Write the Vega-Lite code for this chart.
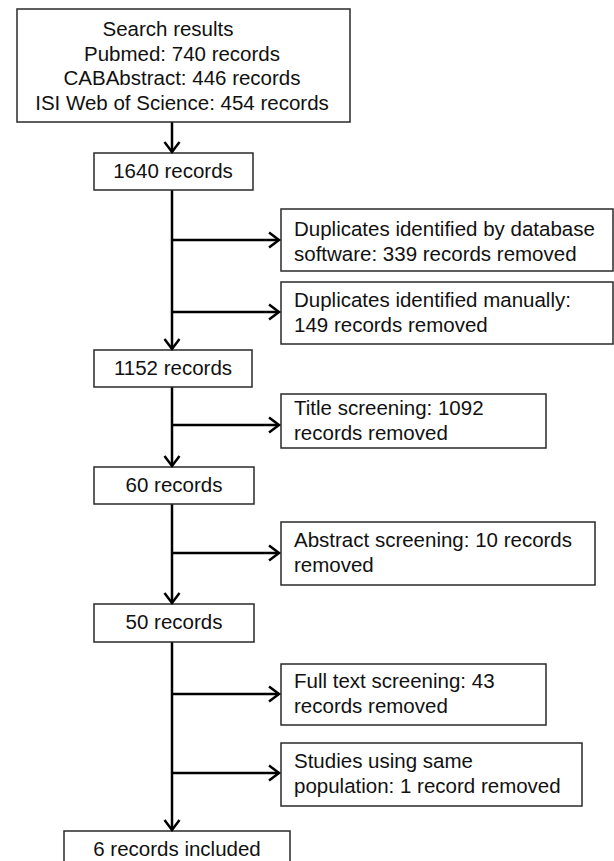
{
  "$schema": "https://vega.github.io/schema/vega-lite/v6.json",
  "width": 614,
  "height": 861,
  "padding": 0,
  "autosize": {"type": "none"},
  "config": {"view": {"stroke": null}},
  "datasets": {
    "boxes": [
      {"x1": 17, "x2": 350, "y1": 9, "y2": 122},
      {"x1": 94, "x2": 253, "y1": 153, "y2": 190},
      {"x1": 281, "x2": 613, "y1": 209, "y2": 271},
      {"x1": 281, "x2": 613, "y1": 282, "y2": 344},
      {"x1": 94, "x2": 252, "y1": 350, "y2": 387},
      {"x1": 281, "x2": 546, "y1": 394, "y2": 448},
      {"x1": 94, "x2": 254, "y1": 467, "y2": 504},
      {"x1": 281, "x2": 595, "y1": 522, "y2": 585},
      {"x1": 94, "x2": 254, "y1": 604, "y2": 642},
      {"x1": 281, "x2": 546, "y1": 664, "y2": 725},
      {"x1": 281, "x2": 582, "y1": 743, "y2": 806},
      {"x1": 64, "x2": 290, "y1": 831, "y2": 880}
    ],
    "vlines": [
      {"x": 172, "y1": 122, "y2": 152},
      {"x": 172, "y1": 190, "y2": 349},
      {"x": 172, "y1": 387, "y2": 466},
      {"x": 172, "y1": 504, "y2": 603},
      {"x": 172, "y1": 642, "y2": 830}
    ],
    "hlines": [
      {"x1": 172, "x2": 279, "y": 240},
      {"x1": 172, "x2": 279, "y": 312},
      {"x1": 172, "x2": 279, "y": 425},
      {"x1": 172, "x2": 279, "y": 553},
      {"x1": 172, "x2": 279, "y": 694},
      {"x1": 172, "x2": 279, "y": 773}
    ],
    "downHeads": [
      {"x": 172, "y": 152},
      {"x": 172, "y": 349},
      {"x": 172, "y": 466},
      {"x": 172, "y": 603},
      {"x": 172, "y": 830}
    ],
    "rightHeads": [
      {"x": 279, "y": 240},
      {"x": 279, "y": 312},
      {"x": 279, "y": 425},
      {"x": 279, "y": 553},
      {"x": 279, "y": 694},
      {"x": 279, "y": 773}
    ],
    "centerText": [
      {"x": 168, "y": 30, "text": "Search results"},
      {"x": 182, "y": 54.5, "text": "Pubmed: 740 records"},
      {"x": 182, "y": 79, "text": "CABAbstract:  446 records"},
      {"x": 182, "y": 103.5, "text": "ISI Web of Science: 454 records"},
      {"x": 173, "y": 172, "text": "1640 records"},
      {"x": 173, "y": 368.5, "text": "1152 records"},
      {"x": 174, "y": 485.5, "text": "60 records"},
      {"x": 174, "y": 623, "text": "50 records"},
      {"x": 177, "y": 850, "text": "6 records included"}
    ],
    "sideText": [
      {"x": 294, "y": 230, "text": "Duplicates identified by database"},
      {"x": 294, "y": 255, "text": "software: 339 records removed"},
      {"x": 294, "y": 300.5, "text": "Duplicates identified manually:"},
      {"x": 294, "y": 325.5, "text": "149 records removed"},
      {"x": 294, "y": 408.5, "text": "Title screening: 1092"},
      {"x": 294, "y": 433.5, "text": "records removed"},
      {"x": 294, "y": 541, "text": "Abstract screening: 10 records"},
      {"x": 294, "y": 566, "text": "removed"},
      {"x": 294, "y": 682, "text": "Full text screening: 43"},
      {"x": 294, "y": 707, "text": "records removed"},
      {"x": 294, "y": 762, "text": "Studies using same"},
      {"x": 294, "y": 787, "text": "population: 1 record removed"}
    ]
  },
  "layer": [
    {
      "data": {"name": "vlines"},
      "mark": {"type": "rule", "color": "#000000", "strokeWidth": 2.5},
      "encoding": {
        "x": {"field": "x", "type": "quantitative", "scale": {"domain": [0, 614], "zero": false, "nice": false}, "axis": null},
        "y": {"field": "y1", "type": "quantitative", "scale": {"domain": [0, 861], "zero": false, "nice": false, "reverse": true}, "axis": null},
        "y2": {"field": "y2"}
      }
    },
    {
      "data": {"name": "hlines"},
      "mark": {"type": "rule", "color": "#000000", "strokeWidth": 2.5},
      "encoding": {
        "x": {"field": "x1", "type": "quantitative", "axis": null},
        "x2": {"field": "x2"},
        "y": {"field": "y", "type": "quantitative", "axis": null}
      }
    },
    {
      "data": {"name": "boxes"},
      "mark": {"type": "rect", "fill": "#ffffff", "stroke": "#2a2a2a", "strokeWidth": 1.5},
      "encoding": {
        "x": {"field": "x1", "type": "quantitative", "axis": null},
        "x2": {"field": "x2"},
        "y": {"field": "y1", "type": "quantitative", "axis": null},
        "y2": {"field": "y2"}
      }
    },
    {
      "data": {"name": "downHeads"},
      "mark": {"type": "point", "shape": "M-1,-1.33L0,0L1,-1.33", "size": 225, "filled": false, "stroke": "#000000", "strokeWidth": 2.5, "strokeJoin": "miter", "opacity": 1},
      "encoding": {
        "x": {"field": "x", "type": "quantitative", "axis": null},
        "y": {"field": "y", "type": "quantitative", "axis": null}
      }
    },
    {
      "data": {"name": "rightHeads"},
      "mark": {"type": "point", "shape": "M-1,-1.33L0,0L1,-1.33", "size": 225, "angle": 270, "filled": false, "stroke": "#000000", "strokeWidth": 2.5, "strokeJoin": "miter", "opacity": 1},
      "encoding": {
        "x": {"field": "x", "type": "quantitative", "axis": null},
        "y": {"field": "y", "type": "quantitative", "axis": null}
      }
    },
    {
      "data": {"name": "centerText"},
      "mark": {"type": "text", "font": "Liberation Sans", "fontSize": 20.5, "align": "center", "baseline": "middle", "color": "#111111"},
      "encoding": {
        "x": {"field": "x", "type": "quantitative", "axis": null},
        "y": {"field": "y", "type": "quantitative", "axis": null},
        "text": {"field": "text"}
      }
    },
    {
      "data": {"name": "sideText"},
      "mark": {"type": "text", "font": "Liberation Sans", "fontSize": 20.5, "align": "left", "baseline": "middle", "color": "#111111"},
      "encoding": {
        "x": {"field": "x", "type": "quantitative", "axis": null},
        "y": {"field": "y", "type": "quantitative", "axis": null},
        "text": {"field": "text"}
      }
    }
  ]
}
